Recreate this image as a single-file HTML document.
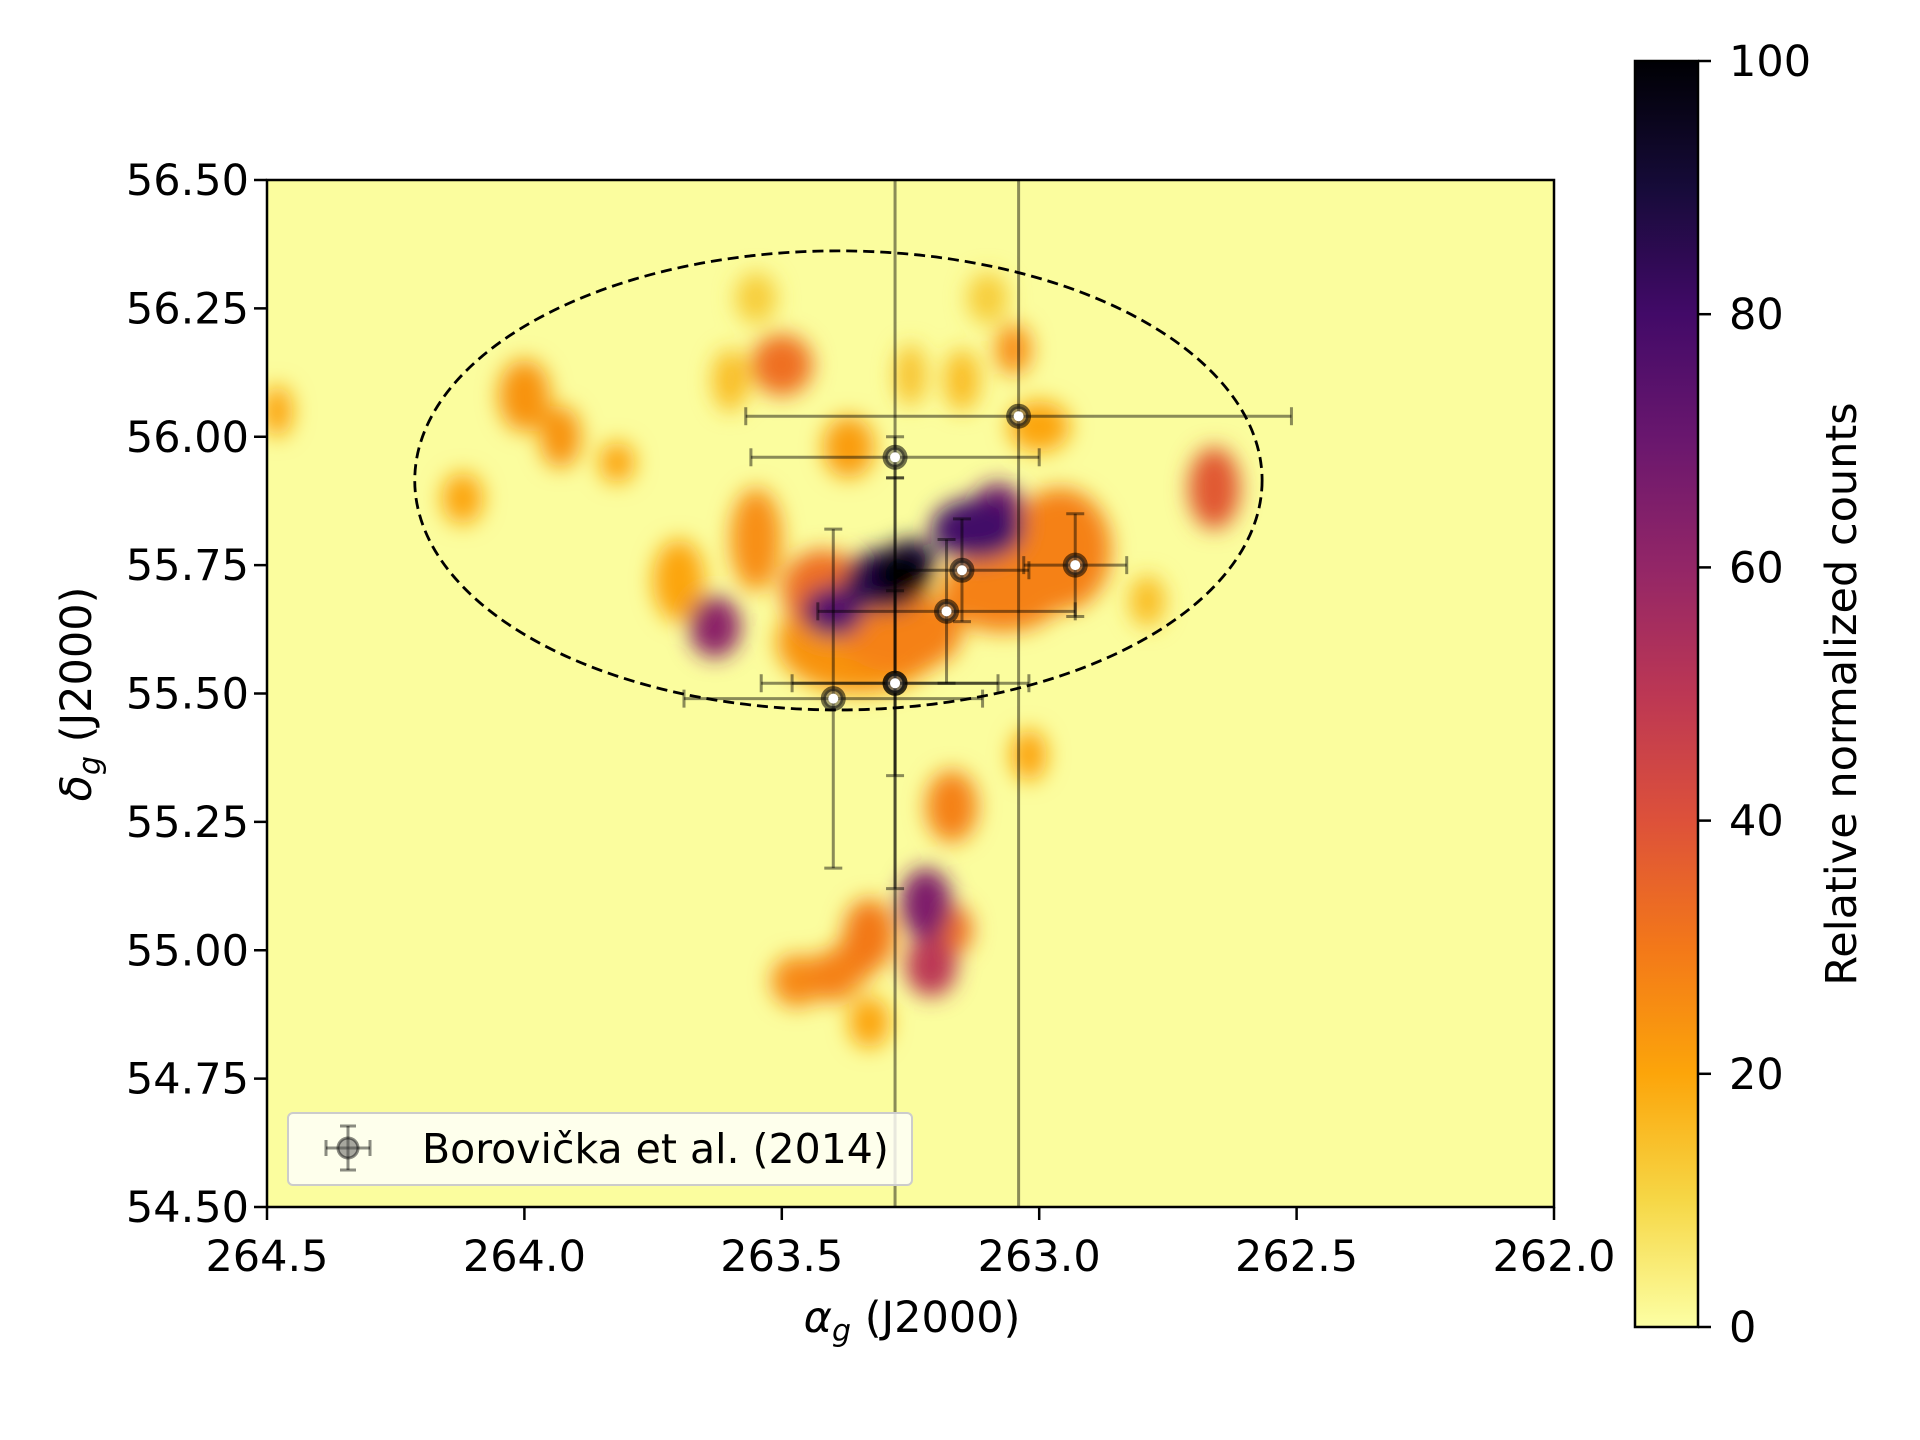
<!DOCTYPE html>
<html><head><meta charset="utf-8"><style>
html,body{margin:0;padding:0;background:#fff;}
svg{display:block;font-family:"DejaVu Sans","Liberation Sans",sans-serif;}
</style></head><body>
<svg id="chart" width="1920" height="1440" viewBox="0 0 1920 1440" xmlns="http://www.w3.org/2000/svg">
<defs>
<filter id="blur" x="-50%" y="-50%" width="200%" height="200%"><feGaussianBlur stdDeviation="11"/></filter>
<clipPath id="plotclip"><rect x="267" y="180" width="1287" height="1027"/></clipPath>
<linearGradient id="cbgrad" x1="0" y1="1" x2="0" y2="0">
<stop offset="0" stop-color="#fcffa4"/><stop offset="0.1" stop-color="#f6d746"/><stop offset="0.2" stop-color="#fca50a"/><stop offset="0.3" stop-color="#f37819"/><stop offset="0.4" stop-color="#dd513a"/><stop offset="0.5" stop-color="#bc3754"/><stop offset="0.6" stop-color="#932667"/><stop offset="0.7" stop-color="#6a176e"/><stop offset="0.8" stop-color="#420a68"/><stop offset="0.9" stop-color="#160b39"/><stop offset="1" stop-color="#000004"/>
</linearGradient>
</defs>
<g id="plot"></g>
</svg>
<script>
const xTicks=[264.5,264.0,263.5,263.0,262.5,262.0];
const xTickLabels=["264.5","264.0","263.5","263.0","262.5","262.0"];
const yTicks=[54.5,54.75,55.0,55.25,55.5,55.75,56.0,56.25,56.5];
const yTickLabels=["54.50","54.75","55.00","55.25","55.50","55.75","56.00","56.25","56.50"];
const cbTicks=[0,20,40,60,80,100];
// heatmap blobs: ra, dec, intensity, ra half-width, dec half-height
const blobRA=[263.27,263.30,263.12,263.40,263.25,263.08,262.96,263.55,263.63,262.66,263.50,264.00,263.93,263.82,264.12,264.48,263.70,263.55,263.60,263.25,263.15,263.10,263.05,263.37,263.42,263.02,263.17,263.22,263.21,263.17,263.33,263.40,263.47,263.36,263.33,263.27,263.35,263.07,263.0,262.79];
const blobDec=[55.73,55.72,55.82,55.66,55.76,55.86,55.78,55.80,55.63,55.90,56.14,56.08,56.00,55.95,55.88,56.05,55.72,56.27,56.11,56.12,56.11,56.27,56.17,55.98,55.70,55.38,55.28,55.09,54.97,55.04,55.03,54.95,54.94,54.98,54.86,55.62,55.60,55.70,56.02,55.68];
const blobVal=[100,85,80,76,88,68,28,25,62,38,32,24,24,20,20,20,20,12,15,14,15,12,25,22,32,20,28,65,50,32,30,28,26,28,20,28,24,28,20,15];
const blobW=[0.06,0.08,0.09,0.06,0.05,0.05,0.10,0.05,0.05,0.05,0.06,0.05,0.04,0.035,0.04,0.03,0.05,0.04,0.035,0.03,0.035,0.04,0.035,0.05,0.08,0.035,0.05,0.05,0.05,0.04,0.05,0.05,0.05,0.04,0.04,0.12,0.16,0.12,0.06,0.035];
const blobH=[0.05,0.06,0.06,0.05,0.04,0.05,0.12,0.10,0.06,0.08,0.06,0.07,0.06,0.04,0.05,0.05,0.08,0.05,0.06,0.06,0.06,0.05,0.05,0.06,0.08,0.05,0.07,0.07,0.06,0.05,0.07,0.05,0.05,0.05,0.05,0.08,0.10,0.08,0.05,0.05];
// data points
const ptRA=[263.04,263.28,263.15,262.93,263.18,263.28,263.28,263.40];
const ptDec=[56.04,55.96,55.74,55.75,55.66,55.52,55.52,55.49];
const ptXerr=[0.53,0.28,0.13,0.10,0.25,0.26,0.20,0.29];
const ptYerr=[0.0,0.04,0.10,0.10,0.14,0.18,0.40,0.33];
const vlineRA=[263.28,263.04];
const ellipse={ra:263.39,dec:55.915,wra:0.823,hdec:0.447};

const L=267,R=1554,T=180,B=1207;
const xs=a=>L+(264.5-a)/2.5*(R-L);
const ys=d=>B-(d-54.5)/2*(B-T);
const NS="http://www.w3.org/2000/svg";
const stops=[[0,"#fcffa4"],[0.1,"#f6d746"],[0.2,"#fca50a"],[0.3,"#f37819"],[0.4,"#dd513a"],[0.5,"#bc3754"],[0.6,"#932667"],[0.7,"#6a176e"],[0.8,"#420a68"],[0.9,"#160b39"],[1,"#000004"]];
function hex(h){return [1,3,5].map(i=>parseInt(h.substr(i,2),16));}
function cmap(v){const t=Math.max(0,Math.min(1,v/100));for(let i=1;i<stops.length;i++){if(t<=stops[i][0]){const f=(t-stops[i-1][0])/(stops[i][0]-stops[i-1][0]);const a=hex(stops[i-1][1]),b=hex(stops[i][1]);return "rgb("+a.map((c,j)=>Math.round(c+(b[j]-c)*f)).join(",")+")";}}return "#000004";}
function mk(tag,attrs,parent){const e=document.createElementNS(NS,tag);for(const k in attrs)e.setAttribute(k,attrs[k]);parent.appendChild(e);return e;}
const root=document.getElementById('plot');
const FS=43;

const bg=mk('rect',{x:L,y:T,width:R-L,height:B-T,fill:"#fbfd9e"},root);


const hm=mk('g',{filter:"url(#blur)","clip-path":"url(#plotclip)"},root);


const order=blobVal.map((v,i)=>i).sort((a,b)=>blobVal[a]-blobVal[b]);
order.forEach(i=>{
  const rx=blobW[i]/2.5*(R-L), ry=blobH[i]/2*(B-T);
  const e=mk('ellipse',{cx:xs(blobRA[i]),cy:ys(blobDec[i]),rx:rx,ry:ry,fill:cmap(blobVal[i])},hm);
  
  
});
const el=mk('ellipse',{cx:xs(ellipse.ra),cy:ys(ellipse.dec),rx:ellipse.wra/2.5*(R-L),ry:ellipse.hdec/2*(B-T),fill:"none",stroke:"#000","stroke-width":2.8,"stroke-dasharray":"11,6"},root);


vlineRA.forEach(a=>{
  const l=mk('line',{x1:xs(a),x2:xs(a),y1:T,y2:B,stroke:"rgba(0,0,0,0.45)","stroke-width":3},root);
  
  
});
const eg=mk('g',{},root);


ptRA.forEach((a,i)=>{
  const g=mk('g',{stroke:"rgba(0,0,0,0.45)","stroke-width":3,fill:"none"},eg);
  
  
  const cx=xs(a),cy=ys(ptDec[i]);
  const x1=xs(a+ptXerr[i]),x2=xs(a-ptXerr[i]);
  mk('line',{x1:x1,x2:x2,y1:cy,y2:cy},g);
  mk('line',{x1:x1,x2:x1,y1:cy-9,y2:cy+9},g);
  mk('line',{x1:x2,x2:x2,y1:cy-9,y2:cy+9},g);
  if(ptYerr[i]>0){const y1=ys(ptDec[i]+ptYerr[i]),y2=ys(ptDec[i]-ptYerr[i]);
    mk('line',{x1:cx,x2:cx,y1:y1,y2:y2},g);
    mk('line',{x1:cx-9,x2:cx+9,y1:y1,y2:y1},g);
    mk('line',{x1:cx-9,x2:cx+9,y1:y2,y2:y2},g);}
  mk('circle',{cx:cx,cy:cy,r:10,fill:"rgba(80,80,80,0.5)",stroke:"rgba(0,0,0,0.55)","stroke-width":5},g);
  mk('circle',{cx:cx,cy:cy,r:5,fill:"#fff",stroke:"none"},g);
});
const fr=mk('rect',{x:L,y:T,width:R-L,height:B-T,fill:"none",stroke:"#000","stroke-width":2.5},root);


xTicks.forEach((v,i)=>{
  const x=xs(v);
  const t=mk('line',{x1:x,x2:x,y1:B,y2:B+13,stroke:"#000","stroke-width":2.5},root);
  
  
  const tx=mk('text',{x:x,y:B+64,"font-size":FS,"text-anchor":"middle",fill:"#000"},root);
  tx.textContent=xTickLabels[i];
  
  
});
yTicks.forEach((v,i)=>{
  const y=ys(v);
  const t=mk('line',{x1:L-13,x2:L,y1:y,y2:y,stroke:"#000","stroke-width":2.5},root);
  
  
  const tx=mk('text',{x:L-18,y:y+15,"font-size":FS,"text-anchor":"end",fill:"#000"},root);
  tx.textContent=yTickLabels[i];
  
  
});
const xt=mk('text',{x:912,y:1332,"font-size":FS,"text-anchor":"middle",fill:"#000"},root);
xt.innerHTML='<tspan font-style="italic">α</tspan><tspan font-style="italic" font-size="30" dy="9">g</tspan><tspan dy="-9"> (J2000)</tspan>';


const yt=mk('text',{x:0,y:0,"font-size":FS,"text-anchor":"middle",fill:"#000",transform:"translate(91,694) rotate(-90)"},root);
yt.innerHTML='<tspan font-style="italic">δ</tspan><tspan font-style="italic" font-size="30" dy="9">g</tspan><tspan dy="-9"> (J2000)</tspan>';


const lg=mk('g',{},root);


mk('rect',{x:288,y:1113,width:624,height:72,rx:5,fill:"rgba(255,255,255,0.8)",stroke:"#ccc","stroke-width":2},lg);
const lm=mk('g',{stroke:"rgba(0,0,0,0.45)","stroke-width":3},lg);


mk('line',{x1:326,x2:370,y1:1148,y2:1148},lm);
mk('line',{x1:348,x2:348,y1:1126,y2:1170},lm);
mk('line',{x1:326,x2:326,y1:1140,y2:1156},lm);mk('line',{x1:370,x2:370,y1:1140,y2:1156},lm);
mk('line',{x1:340,x2:356,y1:1126,y2:1126},lm);mk('line',{x1:340,x2:356,y1:1170,y2:1170},lm);
mk('circle',{cx:348,cy:1148,r:10,fill:"rgba(80,80,80,0.5)"},lm);
const lt=mk('text',{x:422,y:1163,"font-size":41,fill:"#000"},lg);
lt.textContent="Borovička et al. (2014)";


const cb=mk('g',{},root);


const CT=61,CB=1327,CL=1635,CR=1698;
mk('rect',{x:CL,y:CT,width:CR-CL,height:CB-CT,fill:"url(#cbgrad)",stroke:"#000","stroke-width":2.5},cb);
cbTicks.forEach(v=>{
  const y=CB-v/100*(CB-CT);
  const t=mk('line',{x1:CR,x2:CR+13,y1:y,y2:y,stroke:"#000","stroke-width":2.5},cb);
  
  
  const tx=mk('text',{x:CR+31,y:y+15,"font-size":FS,fill:"#000"},cb);
  tx.textContent=String(v);
  
  
});
const ct=mk('text',{x:0,y:0,"font-size":FS,"text-anchor":"middle",fill:"#000",transform:"translate(1856,694) rotate(-90)"},cb);
ct.textContent="Relative normalized counts";


</script>
</body></html>
